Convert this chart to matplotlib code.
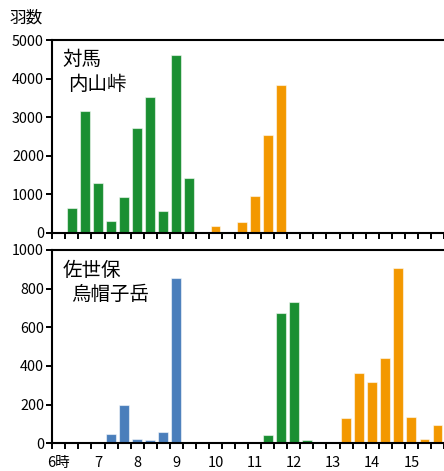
import numpy as np
import matplotlib
matplotlib.use('Agg')
import matplotlib.pyplot as plt

plt.rcParams['font.family'] = ['Noto Sans CJK JP', 'DejaVu Sans']

# 20-minute slots starting at 6:00
n_slots = 30
hour_labels = ['6時', '7', '8', '9', '10', '11', '12', '13', '14', '15']

# Tsushima (top)
top_green = [0, 650, 3150, 1300, 320, 920, 2720, 3530, 570, 4620, 1430, 0, 0, 0, 0,
             0, 0, 0, 0, 0, 0, 0, 0, 0, 0, 0, 0, 0, 0, 0]
top_orange = [0, 0, 0, 0, 0, 0, 0, 0, 0, 0, 0, 0, 170, 0, 290,
              960, 2540, 3840, 0, 0, 0, 0, 0, 0, 0, 0, 0, 0, 0, 0]

# Sasebo (bottom)
bot_blue = [0, 0, 0, 0, 47, 200, 21, 17, 59, 853, 0, 0, 0, 0, 0,
            0, 0, 0, 0, 0, 0, 0, 0, 0, 0, 0, 0, 0, 0, 0]
bot_green = [0, 0, 0, 0, 0, 0, 0, 0, 0, 0, 0, 0, 0, 0, 0,
             0, 45, 676, 729, 16, 0, 0, 0, 0, 0, 0, 0, 0, 0, 0]
bot_orange = [0, 0, 0, 0, 0, 0, 0, 0, 0, 0, 0, 0, 0, 0, 0,
              0, 0, 0, 0, 0, 0, 0, 129, 364, 319, 440, 907, 138, 22, 93]

green = '#1a8f32'
orange = '#f39800'
blue = '#4a7ebb'

W, H = 444, 471
fig = plt.figure(figsize=(W/100, H/100), dpi=100)

def px_axes(x0, y0, x1, y1):
    return fig.add_axes([x0/W, 1-y1/H, (x1-x0)/W, (y1-y0)/H])

ax1 = px_axes(52.3, 40, 444, 233)
ax2 = px_axes(52.3, 250, 444, 443.3)

x = np.arange(n_slots) + 0.5

def draw(ax, vals, col):
    vals = np.array(vals, dtype=float)
    m = vals > 0
    ax.bar(x[m], vals[m], width=0.75, color=col, edgecolor=(1, 1, 1, 0.55),
           linewidth=0.8, zorder=2)

draw(ax1, top_green, green)
draw(ax1, top_orange, orange)
draw(ax2, bot_blue, blue)
draw(ax2, bot_green, green)
draw(ax2, bot_orange, orange)

for ax, ymax, step in [(ax1, 5000, 1000), (ax2, 1000, 200)]:
    ax.set_xlim(0, (444-52.3)/13.33)
    ax.set_ylim(0, ymax)
    ax.set_yticks(np.arange(0, ymax+1, step))
    ax.set_xticks(np.arange(0, n_slots+1))
    ax.set_xticklabels([])
    ax.tick_params(axis='x', which='major', direction='out', length=4, width=1.4, color='black')
    ax.tick_params(axis='y', direction='out', length=4, width=1.4, pad=2, labelsize=10.3)
    ax.spines['right'].set_visible(False)
    for s in ['left', 'bottom', 'top']:
        ax.spines[s].set_linewidth(1.5)
        ax.spines[s].set_color('black')

ax2.set_xticks(np.arange(len(hour_labels))*3 + 0.5, minor=True)
ax2.set_xticklabels(hour_labels, minor=True, fontsize=10.5)
ax2.tick_params(axis='x', which='minor', length=0, pad=9.5)

def ftext(xp, yp, s, size):
    fig.text(xp/W, 1-yp/H, s, fontsize=size, ha='left', va='top')

ftext(9, 10, '羽数', 12)
ftext(62, 48.5, '対馬', 14)
ftext(68, 73.5, '内山峠', 14)
ftext(63, 260.5, '佐世保', 14)
ftext(71, 283.5, '烏帽子岳', 14)

fig.savefig('out.png', dpi=100)
